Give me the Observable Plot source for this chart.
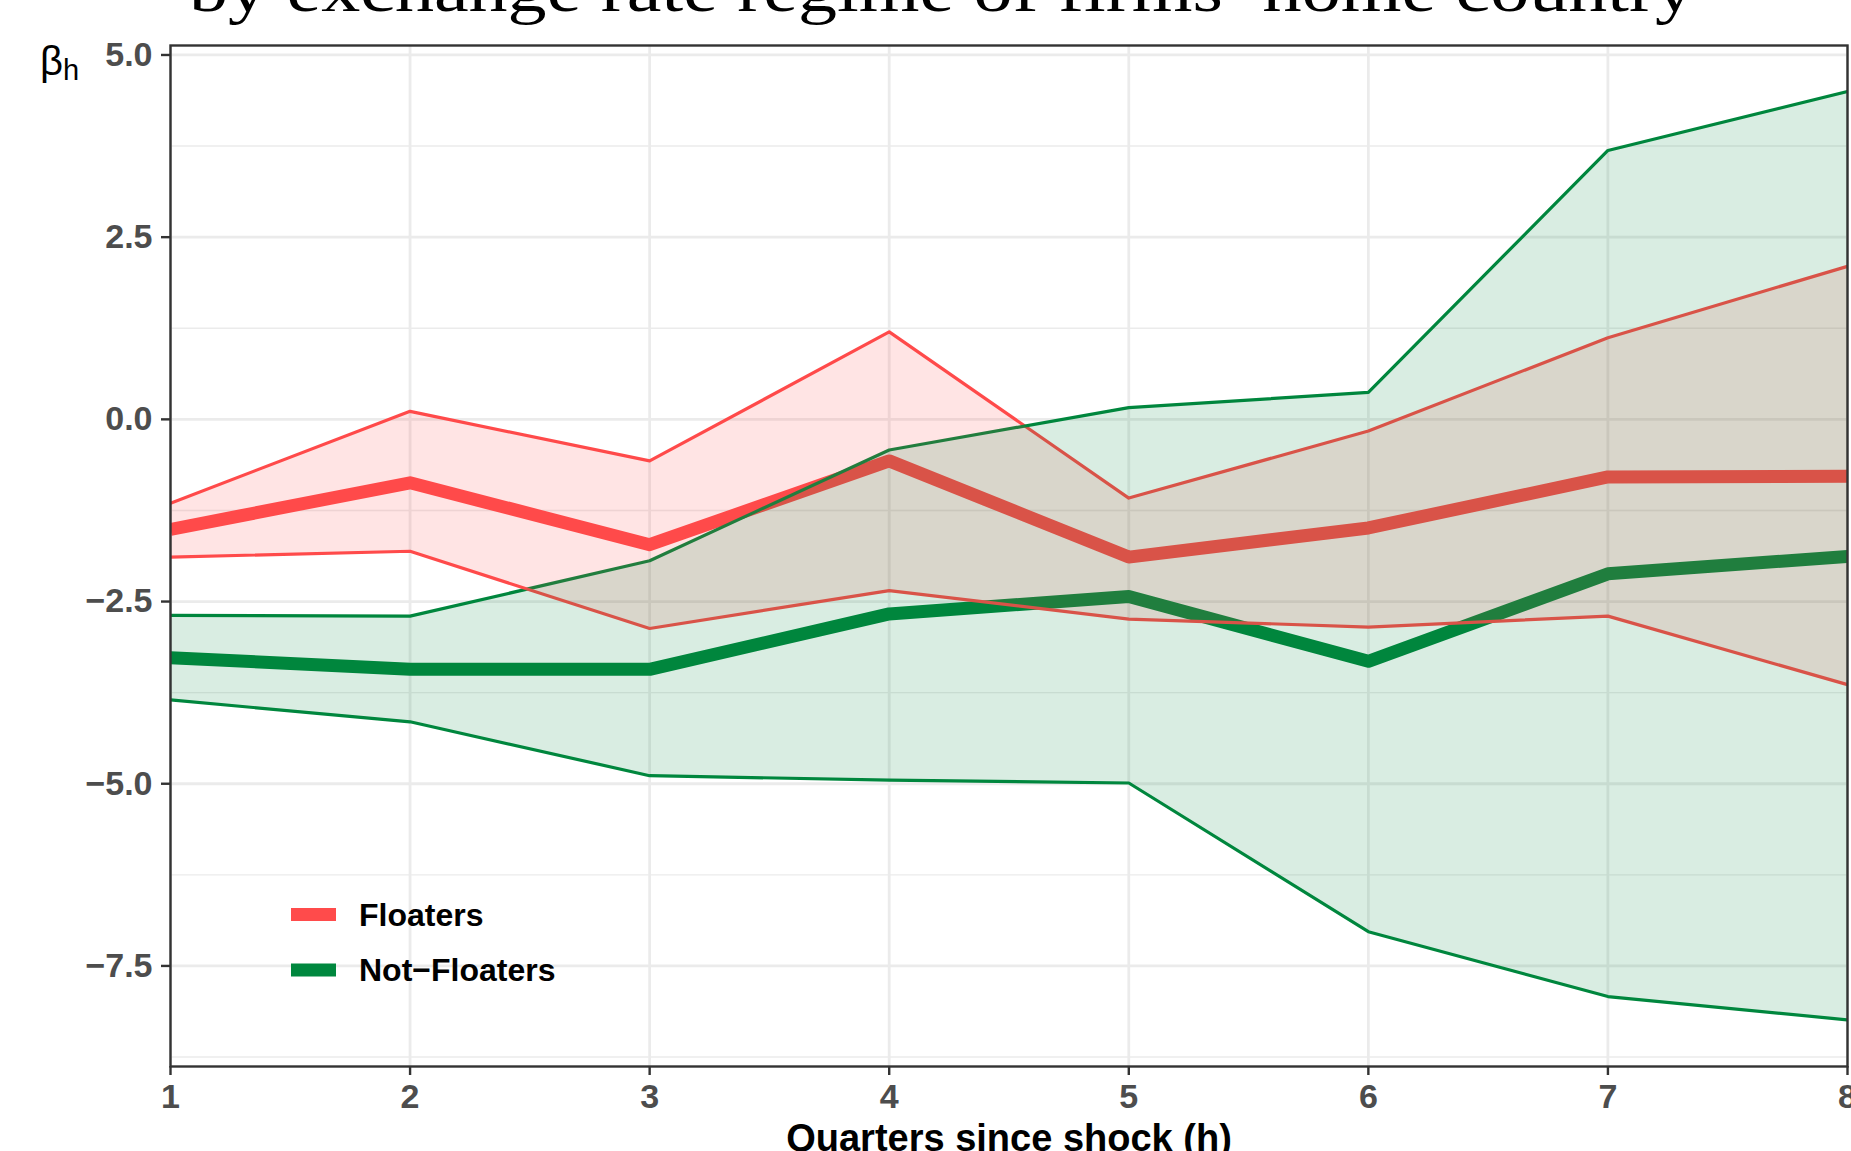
<!DOCTYPE html>
<html>
<head>
<meta charset="utf-8">
<script src="https://cdn.jsdelivr.net/npm/d3@7"></script>
<script src="https://cdn.jsdelivr.net/npm/@observablehq/plot@0.6"></script>
<style>
  html, body { margin: 0; padding: 0; background: #ffffff; }
  #wrap { position: relative; width: 1851px; height: 1151px; overflow: hidden; }
  #wrap > svg { position: absolute; left: 0; top: 0; }
  .overlay { position: absolute; left: 0; top: 0; pointer-events: none; }
</style>
</head>
<body>
<div id="wrap"></div>
<script>
// ---- data ----
const horizons = [1, 2, 3, 4, 5, 6, 7, 8];
const floatersEst = [-1.51, -0.87, -1.72, -0.57, -1.89, -1.49, -0.79, -0.78];
const floatersHi  = [-1.15,  0.11, -0.57,  1.20, -1.08, -0.16,  1.12,  2.10];
const floatersLo  = [-1.89, -1.81, -2.87, -2.35, -2.74, -2.85, -2.70, -3.64];
const notFloatersEst = [-3.27, -3.43, -3.43, -2.67, -2.43, -3.32, -2.12, -1.88];
const notFloatersHi  = [-2.69, -2.70, -1.94, -0.42,  0.16,  0.37,  3.69,  4.50];
const notFloatersLo  = [-3.85, -4.15, -4.89, -4.95, -4.99, -7.03, -7.92, -8.24];
const groups = ["Floaters", "Not\u2212Floaters"];
const groupColors = ["#FF4B4B", "#00873E"];
const yMajorTicks = [-7.5, -5, -2.5, 0, 2.5, 5];
const yMinorTicks = [-8.75, -6.25, -3.75, -1.25, 1.25, 3.75];
const titleText = "by exchange rate regime of firms\u2019 home country";
const xLabel = "Quarters since shock (h)";

// ---- build table ----
const series = [
  {group: groups[0], est: floatersEst, lo: floatersLo, hi: floatersHi},
  {group: groups[1], est: notFloatersEst, lo: notFloatersLo, hi: notFloatersHi}
];
const rows = series.flatMap(s => horizons.map((h, i) => ({h, group: s.group, est: s.est[i], lo: s.lo[i], hi: s.hi[i]})));
const rowsF = rows.filter(d => d.group === groups[0]);
const rowsN = rows.filter(d => d.group === groups[1]);

const fmt = d => d.toFixed(1).replace("-", "\u2212");

const chart = Plot.plot({
  width: 1851,
  height: 1151,
  marginLeft: 170,
  marginRight: 4,
  marginTop: 45,
  marginBottom: 85,
  style: {fontFamily: "'Liberation Sans', Arial, sans-serif", background: "transparent", overflow: "visible"},
  x: {domain: [1, 8]},
  y: {domain: [-8.88, 5.13]},
  color: {domain: groups, range: groupColors},
  marks: [
    Plot.ruleY(yMinorTicks, {stroke: "#EBEBEB", strokeWidth: 1.4}),
    Plot.ruleY(yMajorTicks, {stroke: "#EBEBEB", strokeWidth: 2.8}),
    Plot.ruleX(horizons, {stroke: "#EBEBEB", strokeWidth: 2.8}),
    Plot.line(rows, {x: "h", y: "est", z: "group", stroke: "group", strokeWidth: 13, strokeLinejoin: "round", strokeLinecap: "butt", clip: true}),
    Plot.line(rows, {x: "h", y: "hi", z: "group", stroke: "group", strokeWidth: 3.2, strokeLinejoin: "round", clip: true}),
    Plot.line(rows, {x: "h", y: "lo", z: "group", stroke: "group", strokeWidth: 3.2, strokeLinejoin: "round", clip: true}),
    Plot.areaY(rowsF, {x: "h", y1: "lo", y2: "hi", fill: "group", fillOpacity: 0.15, clip: true}),
    Plot.areaY(rowsN, {x: "h", y1: "lo", y2: "hi", fill: "group", fillOpacity: 0.15, clip: true}),
    Plot.frame({stroke: "#333333", strokeWidth: 2.4}),
    Plot.axisX({ticks: horizons, tickFormat: d => String(d), tickSize: 9, tickPadding: 8, fontSize: 34, fontWeight: "bold", fill: "#4D4D4D", stroke: "#333333", strokeWidth: 2.4, label: null}),
    Plot.axisY({ticks: yMajorTicks, tickFormat: fmt, tickSize: 9, tickPadding: 9, fontSize: 34, fontWeight: "bold", fill: "#4D4D4D", stroke: "#333333", strokeWidth: 2.4, label: null}),
    Plot.text([xLabel], {frameAnchor: "bottom", dy: 84, text: d => d, fontSize: 38, fontWeight: "bold", fill: "#000000", lineAnchor: "bottom"})
  ]
});

const wrap = document.getElementById("wrap");
wrap.appendChild(chart);

// ---- overlay: title, y label, legend ----
const ns = "http://www.w3.org/2000/svg";
const ov = d3.select(wrap).append("svg")
  .attr("class", "overlay")
  .attr("xmlns", ns)
  .attr("width", 1851)
  .attr("height", 1151);

ov.append("text")
  .attr("x", 189).attr("y", 11)
  .attr("font-family", "'Liberation Serif', 'DejaVu Serif', serif")
  .attr("font-size", 64)
  .attr("fill", "#000")
  .attr("textLength", 1505)
  .attr("lengthAdjust", "spacingAndGlyphs")
  .text(titleText);

const yl = ov.append("text")
  .attr("x", 40).attr("y", 75)
  .attr("font-family", "'Liberation Sans', Arial, sans-serif")
  .attr("font-size", 40)
  .attr("fill", "#000");
yl.append("tspan").text("\u03B2");
yl.append("tspan").attr("font-size", 29).attr("dy", 5).text("h");

const leg = ov.append("g");
groups.forEach((g, i) => {
  const cy = 914.5 + i * 55.5;
  leg.append("rect").attr("x", 291).attr("y", cy - 6.5).attr("width", 45).attr("height", 13).attr("fill", groupColors[i]);
  leg.append("text")
    .attr("x", 359).attr("y", cy + 11)
    .attr("font-family", "'Liberation Sans', Arial, sans-serif")
    .attr("font-weight", "bold")
    .attr("font-size", 32)
    .attr("fill", "#000")
    .text(g);
});
</script>
</body>
</html>
